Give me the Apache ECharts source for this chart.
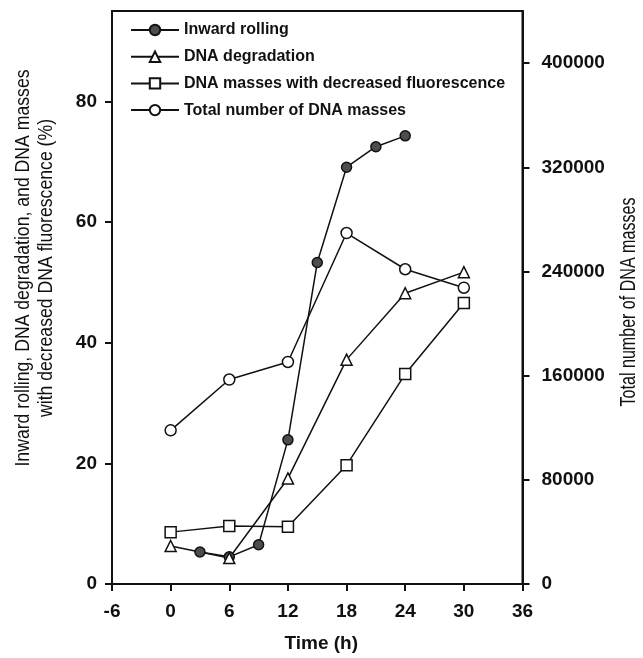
<!DOCTYPE html>
<html>
<head>
<meta charset="utf-8">
<script src="https://cdn.jsdelivr.net/npm/echarts@6/dist/echarts.min.js"></script>
<style>
  html, body { margin: 0; padding: 0; background: #fff; }
  #main { width: 643px; height: 658px; }
</style>
</head>
<body>
<div id="main"></div>
<script>
// data
const timeTicks = [-6, 0, 6, 12, 18, 24, 30, 36];
const pctTicks = [0, 20, 40, 60, 80];
const countTicks = [0, 80000, 160000, 240000, 320000, 400000];

const rollingTime = [3, 6, 9, 12, 15, 18, 21, 24];
const rollingPct = [5.3, 4.5, 6.5, 23.9, 53.3, 69.1, 72.5, 74.3];

const sampleTime = [0, 6, 12, 18, 24, 30];
const degradationPct = [6.3, 4.3, 17.5, 37.2, 48.2, 51.7];
const decreasedFluorPct = [8.6, 9.6, 9.5, 19.7, 34.8, 46.6];
const totalMasses = [118000, 157000, 170500, 269500, 241700, 227500];

const pairs = (xs, ys) => xs.map((x, i) => [x, ys[i]]);

const ink = '#111';
const sans = '"Liberation Sans", Arial, sans-serif';

let myChart = echarts.init(document.getElementById('main'));

function lineSeries(name, data, symbol, size, fill, yIdx) {
  return {
    name: name,
    type: 'line',
    yAxisIndex: yIdx,
    data: data,
    symbol: symbol,
    symbolSize: size,
    showAllSymbol: true,
    lineStyle: { color: ink, width: 1.5 },
    itemStyle: { color: fill, borderColor: ink, borderWidth: 1.5 },
    emphasis: { disabled: true },
    animation: false
  };
}

let option = {
  backgroundColor: '#fff',
  animation: false,
  grid: {
    left: 112, right: 120.5, top: 11, bottom: 70.7,
    show: true, borderColor: ink, borderWidth: 2, backgroundColor: 'transparent'
  },
  legend: {
    left: 125, top: 17,
    orient: 'vertical',
    itemWidth: 48, itemHeight: 13, itemGap: 10.7,
    textStyle: { fontFamily: sans, fontWeight: 'bold', fontSize: 16, color: ink },
    data: ['Inward rolling', 'DNA degradation', 'DNA masses with decreased fluorescence', 'Total number of DNA masses']
  },
  xAxis: {
    type: 'value',
    min: -6, max: 36, interval: 6,
    name: 'Time (h)',
    nameLocation: 'middle',
    nameGap: 50,
    nameTextStyle: { fontFamily: sans, fontWeight: 'bold', fontSize: 19, color: ink, padding: [0, 0, 0, 8] },
    axisLine: { onZero: false, lineStyle: { color: ink, width: 2 } },
    axisTick: { inside: false, length: 7, lineStyle: { color: ink, width: 2 } },
    axisLabel: { margin: 18, fontFamily: sans, fontWeight: 'bold', fontSize: 19, color: ink,
      customValues: timeTicks },
    splitLine: { show: false }
  },
  yAxis: [{
    type: 'value',
    position: 'left',
    min: 0, max: 95,
    axisLine: { show: true, onZero: false, lineStyle: { color: ink, width: 2 } },
    axisTick: { show: true, length: 7, customValues: pctTicks, lineStyle: { color: ink, width: 2 } },
    axisLabel: { margin: 15, fontFamily: sans, fontWeight: 'bold', fontSize: 19, color: ink,
      customValues: pctTicks },
    splitLine: { show: false }
  }, {
    type: 'value',
    position: 'right',
    min: 0, max: 440000,
    axisLine: { show: true, onZero: false, lineStyle: { color: ink, width: 2 } },
    axisTick: { show: true, length: 7, customValues: countTicks, lineStyle: { color: ink, width: 2 } },
    axisLabel: { margin: 19, fontFamily: sans, fontWeight: 'bold', fontSize: 19, color: ink,
      customValues: countTicks, formatter: v => String(v) },
    splitLine: { show: false }
  }],
  // axis titles drawn as condensed text
  graphic: [{
    type: 'text',
    x: 35, y: 268,
    rotation: Math.PI / 2,
    scaleX: 0.84,
    style: {
      text: 'Inward rolling, DNA degradation, and DNA masses\nwith decreased DNA fluorescence (%)',
      font: '21px ' + sans,
      fill: ink,
      align: 'center',
      verticalAlign: 'middle',
      lineHeight: 23
    }
  }, {
    type: 'text',
    x: 629, y: 302,
    rotation: Math.PI / 2,
    scaleX: 0.73,
    style: {
      text: 'Total number of DNA masses',
      font: '22px ' + sans,
      fill: ink,
      align: 'center',
      verticalAlign: 'middle'
    }
  }],
  series: [
    lineSeries('Inward rolling', pairs(rollingTime, rollingPct), 'circle', 10, '#4d4d4d', 0),
    lineSeries('DNA degradation', pairs(sampleTime, degradationPct), 'triangle', 11, '#fff', 0),
    lineSeries('DNA masses with decreased fluorescence', pairs(sampleTime, decreasedFluorPct), 'rect', 11, '#fff', 0),
    lineSeries('Total number of DNA masses', pairs(sampleTime, totalMasses), 'circle', 11, '#fff', 1)
  ]
};
myChart.setOption(option);
</script>
</body>
</html>
